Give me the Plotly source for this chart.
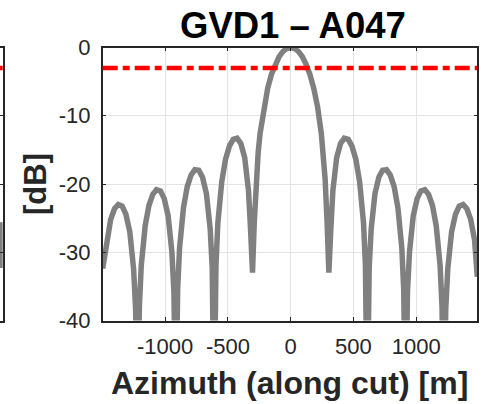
import plotly.graph_objects as go

# ---- data ----
azimuth_m = [-1497, -1464, -1434, -1403, -1373, -1342, -1312, -1281, -1251, -1235, -1220, -1205,
             -1190, -1159, -1129, -1098, -1068, -1037, -1007, -976, -946, -930, -915, -900,
             -885, -854, -824, -793, -763, -732, -702, -671, -641, -625, -610, -595,
             -580, -549, -519, -488, -458, -427, -397, -366, -336, -320, -304, -290,
             -274, -259, -244, -214, -183, -153, -122, -92, -61, -31, 0,
             31, 61, 92, 122, 153, 183, 214, 244, 259, 274,
             290, 304, 320, 336, 366, 397, 427, 458, 488, 519, 549, 580,
             595, 610, 625, 641, 671, 702, 732, 763, 793, 824, 854, 885,
             900, 915, 930, 946, 976, 1007, 1037, 1068, 1098, 1129, 1159, 1190,
             1205, 1220, 1235, 1251, 1281, 1312, 1342, 1373, 1403, 1434, 1464, 1486]
power_db = [-32.4, -28.18, -25.23, -23.63, -23.01, -23.25, -24.45, -27.02, -32.40, -38.21, -55, -37.99,
            -31.96, -26.15, -23.15, -21.51, -20.82, -21.01, -22.15, -24.66, -29.97, -35.74, -55, -35.45,
            -29.39, -23.50, -20.41, -18.68, -17.90, -17.98, -19.02, -21.41, -26.59, -32.29, -55, -31.86,
            -25.72, -19.67, -16.39, -14.46, -13.46, -13.30, -14.06, -16.14, -20.97, -26.48, -33.0, -25.61,
            -19.23, -15.39, -12.62, -8.69, -5.94, -3.92, -2.42, -1.33, -0.58, -0.14, 0.0,
            -0.14, -0.58, -1.33, -2.42, -3.92, -5.94, -8.69, -12.62, -15.39, -19.23,
            -25.61, -33.0, -26.48, -20.97, -16.14, -14.06, -13.30, -13.46, -14.46, -16.39, -19.67, -25.72,
            -31.86, -55, -32.29, -26.59, -21.41, -19.02, -17.98, -17.90, -18.68, -20.41, -23.50, -29.39,
            -35.45, -55, -35.74, -29.97, -24.66, -22.15, -21.01, -20.82, -21.51, -23.15, -26.15, -31.96,
            -37.99, -55, -38.21, -32.40, -27.02, -24.45, -23.25, -23.01, -23.63, -25.23, -28.18, -33.6]

# partial neighbouring panel visible at the left edge
left_panel_x = [0, 1]
left_panel_db = [-25.6, -32.3]

threshold_db = -3
x_range = [-1497, 1486]
y_range = [-40, 0]
x_ticks = [-1000, -500, 0, 500, 1000]
x_ticktext = ["-1000", "-500", "0", "500", "1000"]
y_ticks = [0, -10, -20, -30, -40]
y_ticktext = ["0", "-10", "-20", "-30", "-40"]

title_text = "GVD1 – A047"
xlabel = "Azimuth (along cut) [m]"
ylabel = "[dB]"

W, H = 489, 404
FONT = "Liberation Sans, Arial, Helvetica, sans-serif"
AX = "#262626"
GRID = "#e3e3e3"

px = lambda v: v / W
py = lambda v: 1 - v / H

fig = go.Figure()
fig.add_trace(go.Scatter(x=azimuth_m, y=power_db, mode="lines",
                         line=dict(color="#808080", width=5.5),
                         xaxis="x", yaxis="y", showlegend=False, hoverinfo="skip"))
fig.add_trace(go.Scatter(x=left_panel_x, y=left_panel_db, mode="lines",
                         line=dict(color="#808080", width=5.5),
                         xaxis="x2", yaxis="y2", showlegend=False, hoverinfo="skip"))

dash = "15px,5px,7px,5px"
fig.add_shape(type="line", xref="x domain", yref="y", x0=0, x1=1, y0=threshold_db, y1=threshold_db,
              line=dict(color="red", width=4.5, dash=dash))
fig.add_shape(type="line", xref="x2 domain", yref="y2", x0=0, x1=1, y0=threshold_db, y1=threshold_db,
              line=dict(color="red", width=4.5, dash=dash))

ydom = [py(320.5), py(47.5)]
fig.update_layout(
    template="none",
    width=W, height=H, autosize=False,
    margin=dict(l=0, r=0, t=0, b=0, pad=0),
    paper_bgcolor="white", plot_bgcolor="white",
    font=dict(family=FONT, color=AX),
    xaxis=dict(domain=[px(102.7), px(477.3)], range=x_range, tickmode="array",
               tickvals=x_ticks, ticktext=x_ticktext, ticks="inside", ticklen=4,
               tickwidth=1.2, tickcolor=AX, showline=True, linecolor=AX, linewidth=1.5,
               mirror="ticks", showgrid=True, gridcolor=GRID, gridwidth=1, zeroline=False,
               tickfont=dict(size=22, color=AX, family=FONT), ticklabelstandoff=5,
               anchor="y", automargin=False),
    yaxis=dict(domain=ydom, range=y_range, tickmode="array",
               tickvals=y_ticks, ticktext=y_ticktext, ticks="inside", ticklen=4,
               tickwidth=1.2, tickcolor=AX, showline=True, linecolor=AX, linewidth=1.5,
               mirror="ticks", showgrid=True, gridcolor=GRID, gridwidth=1, zeroline=False,
               tickfont=dict(size=22, color=AX, family=FONT), ticklabelstandoff=6,
               anchor="x", automargin=False),
    xaxis2=dict(domain=[0, px(2.7)], range=[0, 1], showticklabels=False, ticks="",
                showline=True, linecolor=AX, linewidth=1.5, mirror=True,
                showgrid=False, zeroline=False, anchor="y2", automargin=False),
    yaxis2=dict(domain=ydom, range=y_range, tickmode="array", tickvals=[-10, -20, -30],
                side="right", ticks="inside", ticklen=4, tickwidth=1.2, tickcolor=AX,
                showticklabels=False, showline=True, linecolor=AX, linewidth=1.5,
                showgrid=False, zeroline=False, anchor="x2", automargin=False),
)

fig.add_annotation(text=title_text, xref="paper", yref="paper", x=px(293), y=py(25.5),
                   xanchor="center", yanchor="middle", showarrow=False,
                   font=dict(size=36.5, color="black", family=FONT, weight="bold"))
fig.add_annotation(text=xlabel, xref="paper", yref="paper", x=px(289), y=py(383),
                   xanchor="center", yanchor="middle", showarrow=False,
                   font=dict(size=32, color=AX, family=FONT, weight="bold"))
fig.add_annotation(text=ylabel, xref="paper", yref="paper", x=px(36), y=py(184),
                   xanchor="center", yanchor="middle", showarrow=False, textangle=-90,
                   font=dict(size=31, color=AX, family=FONT, weight="bold"))

fig.write_html("out.html")
